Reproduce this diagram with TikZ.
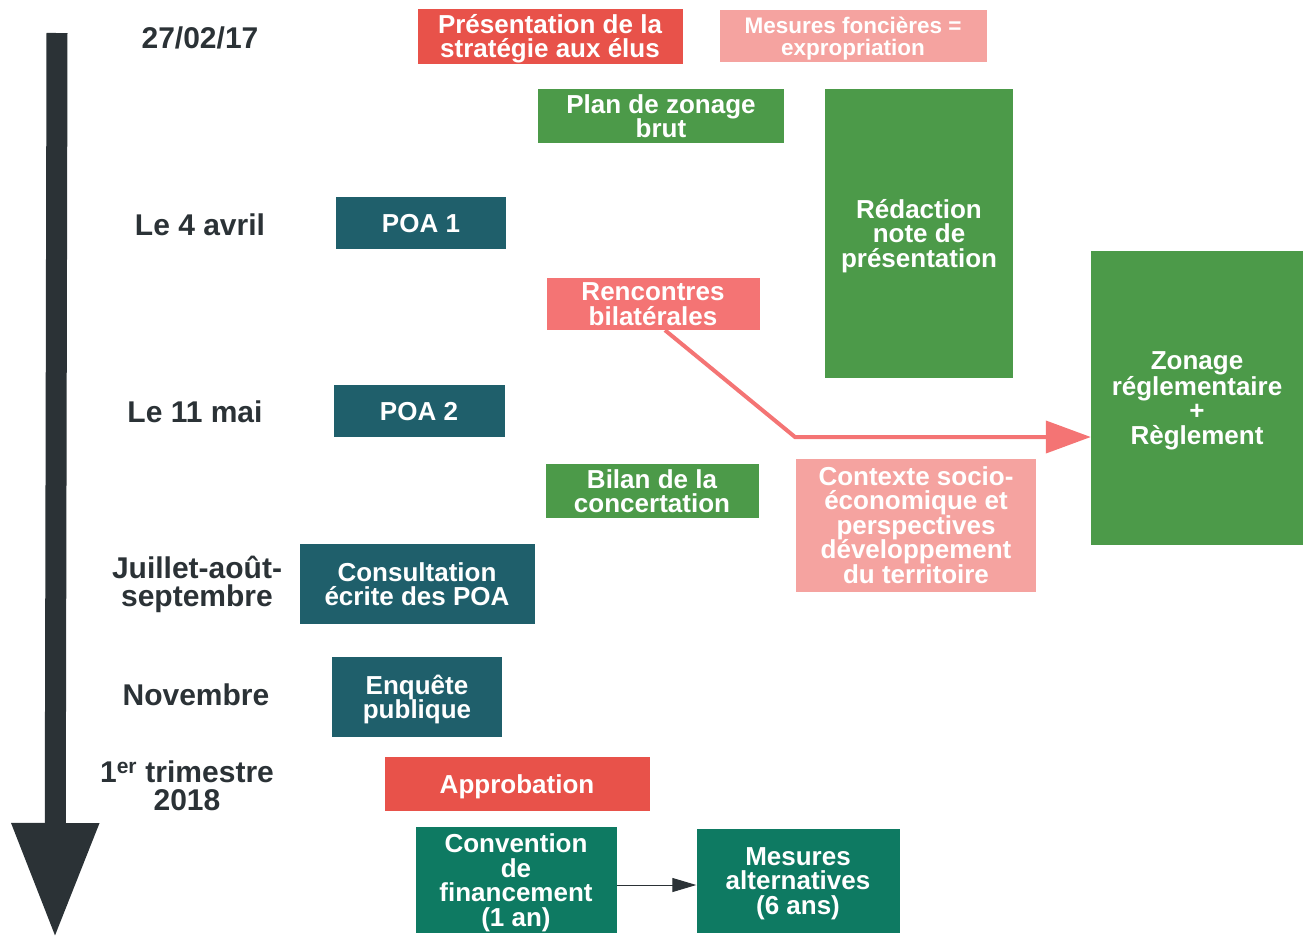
\documentclass[tikz,border=0pt]{standalone}
\usepackage{fontspec}
\setmainfont{Liberation Sans}
\usetikzlibrary{arrows.meta}
\usetikzlibrary{calc}

\definecolor{rouge}{HTML}{E8524A}
\definecolor{rougeclair}{HTML}{F5A3A0}
\definecolor{rougemoyen}{HTML}{F47474}
\definecolor{vert}{HTML}{4C9A49}
\definecolor{bleucanard}{HTML}{1F5F6B}
\definecolor{vertfonce}{HTML}{0E7A62}
\definecolor{ardoise}{HTML}{2B3236}

\tikzset{
  etape/.style={draw=none, text=white, align=center, inner sep=0pt,
    font=\bfseries\fontsize{26}{24.5}\selectfont, text depth=-10pt},
  date/.style={text=ardoise, align=center, inner sep=0pt,
    font=\bfseries\fontsize{30}{28}\selectfont},
}

\begin{document}
\begin{tikzpicture}[x=1pt, y=-1pt]
                \useasboundingbox (0,0) rectangle (1313,940);
                % frise
                \coordinate (debut) at (57,33);
                \coordinate (fin) at (55,938);
                \draw[ardoise, line width=21pt, -{Triangle[length=115pt, width=82pt]}] (debut) -- (fin);
                % dates
                \node[date] (d1) at (200,38) {27/02/17};
                \node[date] (d2) at (200,225) {Le 4 avril};
                \node[date] (d3) at (195,412) {Le 11 mai};
                \node[date] (d4) at (197,584) {Juillet-août-\\septembre};
                \node[date] (d5) at (196,695) {Novembre};
                \node[date] (d6) at (187,786) {1\textsuperscript{er} trimestre\\2018};
                % etapes
                \node[etape, fill=rouge, minimum width=265pt, minimum height=55pt] (pres) at (550,36) {Présentation de la\\stratégie aux élus};
                \node[etape, fill=rougeclair, minimum width=267pt, minimum height=52pt, font=\bfseries\fontsize{22.5}{22}\selectfont] (fonc) at (853,36) {Mesures foncières =\\expropriation};
                \node[etape, fill=vert, minimum width=246pt, minimum height=54pt] (plan) at (661,116) {Plan de zonage\\brut};
                \node[etape, fill=vert, minimum width=188pt, minimum height=289pt] (redac) at (919,233) {Rédaction\\note de\\présentation};
                \node[etape, fill=bleucanard, minimum width=170pt, minimum height=52pt] (poa1) at (421,223) {POA 1};
                \node[etape, fill=rougemoyen, minimum width=213pt, minimum height=52pt] (renc) at (653,304) {Rencontres\\bilatérales};
                \node[etape, fill=vert, minimum width=212pt, minimum height=294pt] (zonage) at (1197,398) {Zonage\\réglementaire\\+\\Règlement};
                \node[etape, fill=bleucanard, minimum width=171pt, minimum height=52pt] (poa2) at (419,411) {POA 2};
                \node[etape, fill=vert, minimum width=213pt, minimum height=54pt] (bilan) at (652,491) {Bilan de la\\concertation};
                \node[etape, fill=rougeclair, minimum width=240pt, minimum height=133pt] (ctx) at (916,525) {Contexte socio-\\économique et\\perspectives\\développement\\du territoire};
                \node[etape, fill=bleucanard, minimum width=235pt, minimum height=80pt] (consult) at (417,584) {Consultation\\écrite des POA};
                \node[etape, fill=bleucanard, minimum width=170pt, minimum height=80pt] (enq) at (417,697) {Enquête\\publique};
                \node[etape, fill=rouge, minimum width=265pt, minimum height=54pt] (appro) at (517,784) {Approbation};
                \node[etape, fill=vertfonce, minimum width=201pt, minimum height=106pt] (conv) at (516,880) {Convention\\de\\financement\\(1 an)};
                \node[etape, fill=vertfonce, minimum width=203pt, minimum height=104pt] (alt) at (798,881) {Mesures\\alternatives\\(6 ans)};
                % fleches
                \coordinate (coude) at (795,437);
                \draw[rougemoyen, line width=4pt, -{Triangle[length=45pt, width=32pt]}] ($(renc.south)+(12,0)$) -- (coude) -- (coude -| zonage.west);
                \draw[ardoise, line width=1pt, -{Triangle[length=24pt, width=14pt]}] (conv.east |- 0,885) -- (alt.west |- 0,885);
            \end{tikzpicture}
\end{document}
